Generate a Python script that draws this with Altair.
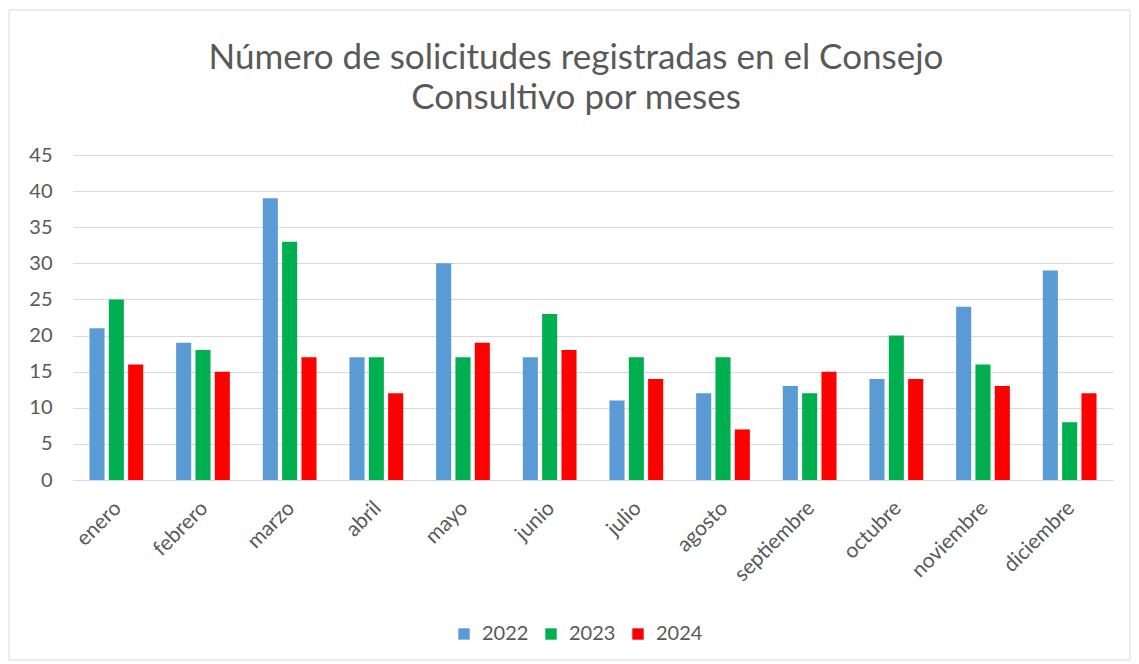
import altair as alt
import pandas as pd

months = ["enero", "febrero", "marzo", "abril", "mayo", "junio", "julio",
          "agosto", "septiembre", "octubre", "noviembre", "diciembre"]
years = ["2022", "2023", "2024"]
v2022 = [21, 19, 39, 17, 30, 17, 11, 12, 13, 14, 24, 29]
v2023 = [25, 18, 33, 17, 17, 23, 17, 17, 12, 20, 16, 8]
v2024 = [16, 15, 17, 12, 19, 18, 14, 7, 15, 14, 13, 12]
colors = ["#5B9BD5", "#00B050", "#FF0000"]
title_lines = ["Número de solicitudes registradas en el Consejo", "Consultivo por meses"]

rows = []
for y, vals in zip(years, [v2022, v2023, v2024]):
    for m, v in zip(months, vals):
        rows.append({"mes": m, "año": y, "valor": v})
df = pd.DataFrame(rows)

FONT = "Lato"
GREY = "#595959"

bars = alt.Chart(df).mark_bar().encode(
    x=alt.X("mes:N", sort=months, title=None,
            scale=alt.Scale(paddingInner=0.38, paddingOuter=0.19),
            axis=alt.Axis(labelAngle=-45, labelAlign="right", labelBaseline="top",
                          labelFontSize=21, labelColor=GREY, labelFont=FONT,
                          ticks=False, domainColor="#d9d9d9", labelPadding=17,
                          labelOffset=-6)),
    xOffset=alt.XOffset("año:N", scale=alt.Scale(paddingInner=0.22)),
    y=alt.Y("valor:Q", title=None,
            scale=alt.Scale(domain=[0, 45]),
            axis=alt.Axis(values=list(range(0, 50, 5)), labelFontSize=20,
                          labelColor=GREY, labelFont=FONT, ticks=False, domain=False,
                          gridColor="#d9d9d9", labelPadding=21)),
    color=alt.Color("año:N", scale=alt.Scale(domain=years, range=colors),
                    legend=alt.Legend(title=None, orient="none", direction="horizontal",
                                      legendX=381, legendY=469, symbolType="square",
                                      symbolSize=130, symbolStrokeWidth=0,
                                      labelOffset=8,
                                      labelFontSize=20, labelColor=GREY,
                                      labelFont=FONT, columnPadding=12)),
)

border = alt.Chart(pd.DataFrame({"a": [0]})).mark_rect(
    fill=None, stroke="#d9d9d9", strokeWidth=1
).encode(
    x=alt.value(-64), x2=alt.value(1057), y=alt.value(-145), y2=alt.value(505)
)

title_df = pd.DataFrame({"t": [title_lines[0]]})
title_df2 = pd.DataFrame({"t": [title_lines[1]]})
t1 = alt.Chart(title_df).mark_text(
    font=FONT, fontSize=35, color=GREY, align="center", baseline="alphabetic"
).encode(text="t:N", x=alt.value(503), y=alt.value(-86))
t2 = alt.Chart(title_df2).mark_text(
    font=FONT, fontSize=35, color=GREY, align="center", baseline="alphabetic"
).encode(text="t:N", x=alt.value(503), y=alt.value(-46))

chart = alt.layer(border, bars, t1, t2).properties(
    width=1040, height=325,
    autosize=alt.AutoSizeParams(type="none"),
    padding={"left": 73, "top": 155, "right": 26, "bottom": 184},
).configure(background="white", view=alt.ViewConfig(stroke=None))

chart.save("out.html", embed_options={"renderer": "svg", "actions": False})
